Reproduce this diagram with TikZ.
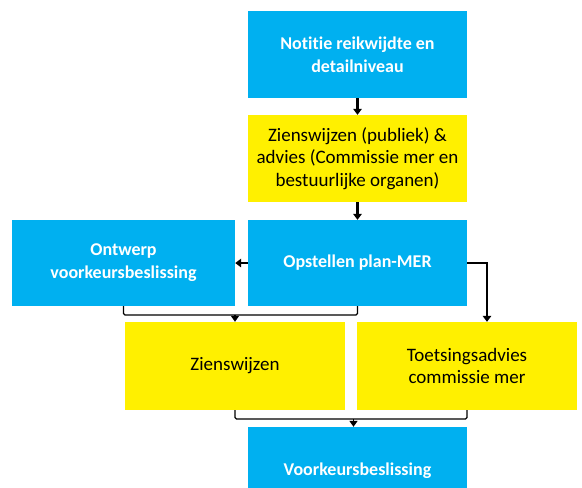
\documentclass[tikz,border=0pt]{standalone}
\usepackage{fontspec}
\setmainfont[Ligatures=NoCommon]{Carlito}
\usetikzlibrary{arrows.meta,calc}
\definecolor{mblue}{HTML}{00B0F0}
\definecolor{myellow}{HTML}{FFF000}
\tikzset{
  box/.style={rectangle, inner sep=0pt, align=center},
  bluebox/.style={box, fill=mblue, text=white, font=\fontsize{18}{23}\selectfont\bfseries},
  yellowbox/.style={box, fill=myellow, text=black, font=\fontsize{19}{22.5}\selectfont},
  arr/.style={line width=2.2pt, -{Triangle[length=6pt,width=8.5pt]}},
  brk/.style={line width=1.4pt, rounded corners=1.5pt},
  brkarr/.style={line width=1.4pt, -{Triangle[length=6pt,width=8pt]}}
}
\begin{document}
\begin{tikzpicture}[x=1pt,y=-1pt]
\useasboundingbox (0,0) rectangle (582,488);
\clip (0,0) rectangle (582,488);
\node[bluebox, minimum width=219pt, minimum height=87pt] (n1) at (357.5,54.5) {Notitie reikwijdte en\\detailniveau};
\node[yellowbox, minimum width=219pt, minimum height=87pt] (n2) at (357.5,158.5) {Zienswijzen (publiek) \&\\advies (Commissie mer en\\bestuurlijke organen)};
\node[bluebox, minimum width=219pt, minimum height=86pt] (n3) at (357.5,263) {Opstellen plan-MER};
\node[bluebox, minimum width=223pt, minimum height=86pt] (ow) at (123.5,263) {Ontwerp\\voorkeursbeslissing};
\node[yellowbox, minimum width=220pt, minimum height=88pt] (zw) at (235,366) {Zienswijzen};
\node[yellowbox, minimum width=220pt, minimum height=88pt] (ta) at (467,366) {Toetsingsadvies\\commissie mer};
\node[bluebox, minimum width=219pt, minimum height=88pt] (vb) at (357.5,471) {Voorkeursbeslissing};
\coordinate (b1) at (0,315);
\coordinate (b2) at (0,419);
\draw[arr] (n1.south) -- (n2.north);
\draw[arr] (n2.south) -- (n3.north);
\draw[arr] (n3.west) -- (ow.east);
\draw[arr] (n3.east) -| ([xshift=20pt]ta.north);
\draw[brk] (ow.south) |- (n3.south |- b1) -- (n3.south);
\draw[brkarr] (zw.north |- b1) -- (zw.north);
\draw[brk] (zw.south) |- (ta.south |- b2) -- (ta.south);
\draw[brkarr] ([xshift=-4pt]vb.north |- b2) -- ([xshift=-4pt]vb.north);
\end{tikzpicture}
\end{document}
